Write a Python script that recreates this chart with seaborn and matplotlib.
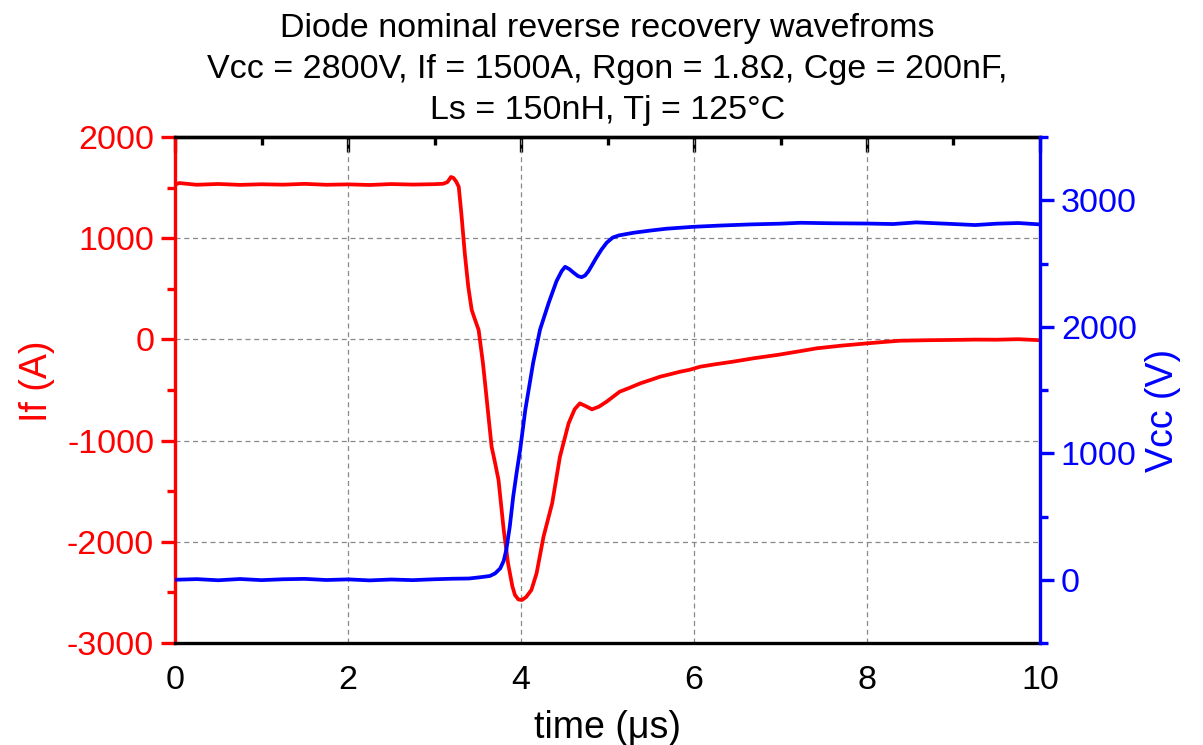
import matplotlib
matplotlib.use("Agg")
import matplotlib.pyplot as plt
from matplotlib.ticker import MultipleLocator
import seaborn as sns
import pandas as pd

# Diode forward current If (A) versus time (µs)
t_if = [0.0, 0.05, 0.25, 0.5, 0.75, 1.0, 1.25, 1.5, 1.75, 2.0, 2.25, 2.5, 2.75,
        3.0, 3.1, 3.15, 3.19, 3.22, 3.25, 3.28, 3.31, 3.35, 3.39, 3.43, 3.47,
        3.51, 3.56, 3.59, 3.62, 3.66, 3.70, 3.74, 3.80, 3.85, 3.90, 3.93, 3.97,
        4.01, 4.06, 4.12, 4.18, 4.26, 4.36, 4.45, 4.55, 4.62, 4.68, 4.75, 4.82,
        4.90, 4.99, 5.14, 5.25, 5.38, 5.5, 5.61, 5.72, 5.84, 5.95, 6.07, 6.25,
        6.45, 6.7, 6.96, 7.2, 7.42, 7.7, 8.0, 8.2, 8.38, 8.7, 9.0, 9.25, 9.5,
        9.75, 10.0]
i_f = [1530, 1545, 1528, 1536, 1527, 1533, 1529, 1537, 1528, 1532, 1526, 1535,
       1530, 1534, 1538, 1555, 1605, 1595, 1560, 1509, 1246, 850, 521, 291, 190,
       93, -236, -480, -730, -1060, -1220, -1390, -1883, -2212, -2440, -2526,
       -2570, -2575, -2545, -2476, -2311, -1950, -1620, -1159, -830, -690, -632,
       -660, -691, -665, -615, -517, -480, -434, -400, -368, -345, -319, -300,
       -270, -245, -220, -185, -154, -120, -88, -62, -39, -25, -13, -8, -5, -2,
       -3, 2, -8]

# Diode voltage Vcc (V) versus time (µs)
t_v = [0.0, 0.25, 0.5, 0.75, 1.0, 1.25, 1.5, 1.75, 2.0, 2.25, 2.5, 2.75, 3.0,
       3.2, 3.4, 3.53, 3.64, 3.70, 3.76, 3.80, 3.83, 3.87, 3.91, 3.95, 3.99,
       4.05, 4.14, 4.22, 4.32, 4.41, 4.47, 4.51, 4.56, 4.61, 4.66, 4.70, 4.74,
       4.78, 4.87, 4.93, 4.99, 5.06, 5.13, 5.30, 5.49, 5.68, 5.99, 6.3, 6.65,
       7.0, 7.23, 7.6, 8.0, 8.3, 8.57, 9.0, 9.25, 9.5, 9.75, 10.0]
v_cc = [0, 5, -4, 6, -3, 4, 7, -2, 3, -5, 2, -3, 4, 8, 10, 20, 30, 50, 90, 150,
        237, 420, 659, 850, 1028, 1345, 1714, 1978, 2189, 2360, 2440, 2474,
        2455, 2426, 2400, 2392, 2405, 2439, 2545, 2610, 2664, 2705, 2722, 2743,
        2760, 2775, 2790, 2800, 2809, 2815, 2822, 2818, 2816, 2812, 2825, 2812,
        2804, 2815, 2820, 2809]

x_ticks = [0, 2, 4, 6, 8, 10]
if_ticks = [-3000, -2000, -1000, 0, 1000, 2000]
vcc_ticks = [0, 1000, 2000, 3000]

df_if = pd.DataFrame({"time": t_if, "If": i_f})
df_v = pd.DataFrame({"time": t_v, "Vcc": v_cc})

sns.set_theme(style="white")
plt.rcParams["font.family"] = ["Liberation Sans", "DejaVu Sans"]
plt.rcParams["axes.unicode_minus"] = False

RED = "#ff0000"
BLUE = "#0000ff"

fig = plt.figure(figsize=(12.03, 7.45), dpi=100)
ax = fig.add_axes([0.1455, 0.1369, 0.719, 0.6792])
ax2 = ax.twinx()

sns.lineplot(data=df_if, x="time", y="If", ax=ax, color=RED, linewidth=2.7,
             estimator=None, sort=False)
sns.lineplot(data=df_v, x="time", y="Vcc", ax=ax2, color=BLUE, linewidth=2.7,
             estimator=None, sort=False)

ax.set_xlim(0, 10)
ax.set_ylim(-3000, 2000)
ax2.set_ylim(-500, 3500)

ax.set_xticks(x_ticks)
ax.set_yticks(if_ticks)
ax2.set_yticks(vcc_ticks)
ax.xaxis.set_minor_locator(MultipleLocator(1))
ax.yaxis.set_minor_locator(MultipleLocator(500))
ax2.yaxis.set_minor_locator(MultipleLocator(500))

# dashed grid from the current axis only
ax.grid(True, which="major", color="#888888", linestyle=(0, (4, 3)), linewidth=0.9)
ax.set_axisbelow(True)

fs = 24.5
lw = 2.4
ax.tick_params(axis="x", which="major", direction="out", length=10, width=lw,
               labelsize=fs, pad=6, colors="black", top=False)
ax.tick_params(axis="x", which="minor", direction="out", length=6, width=lw,
               top=False)
ax.tick_params(axis="y", which="major", direction="out", length=10, width=lw,
               labelsize=fs, pad=5, colors=RED)
ax.tick_params(axis="y", which="minor", direction="out", length=6, width=lw,
               colors=RED)
ax2.tick_params(axis="y", which="major", direction="out", length=10, width=lw,
                labelsize=fs, pad=5, colors=BLUE)
ax2.tick_params(axis="y", which="minor", direction="out", length=6, width=lw,
                colors=BLUE)

# top ticks point inward
sec = ax.secondary_xaxis("top")
sec.set_xticks(x_ticks)
sec.xaxis.set_minor_locator(MultipleLocator(1))
sec.tick_params(axis="x", which="major", direction="in", length=11, width=lw,
                labeltop=False, color="black")
sec.tick_params(axis="x", which="minor", direction="in", length=6, width=lw,
                color="black")
sec.spines["top"].set_linewidth(lw)
sec.spines["top"].set_color("black")

for side in ["top", "bottom"]:
    ax.spines[side].set_color("black")
    ax.spines[side].set_linewidth(lw)
    ax2.spines[side].set_visible(False)
ax.spines["left"].set_color(RED)
ax.spines["left"].set_linewidth(lw)
ax.spines["right"].set_visible(False)
ax2.spines["left"].set_visible(False)
ax2.spines["right"].set_color(BLUE)
ax2.spines["right"].set_linewidth(lw)

lab = 27
ax.set_xlabel("time (μs)", fontsize=lab, color="black")
ax.set_ylabel("If (A)", fontsize=lab, color=RED)
ax2.set_ylabel("Vcc (V)", fontsize=lab, color=BLUE)
ax.xaxis.set_label_coords(0.5, -0.133)
ax.yaxis.set_label_coords(-0.139, 0.518)
ax2.yaxis.set_label_coords(1.121, 0.46)

ax.set_title("Diode nominal reverse recovery wavefroms\n"
             "Vcc = 2800V, If = 1500A, Rgon = 1.8Ω, Cge = 200nF,\n"
             "Ls = 150nH, Tj = 125°C",
             fontsize=24.5, linespacing=1.42, pad=13, color="black")

fig.savefig("out.png", dpi=100, facecolor="white")
